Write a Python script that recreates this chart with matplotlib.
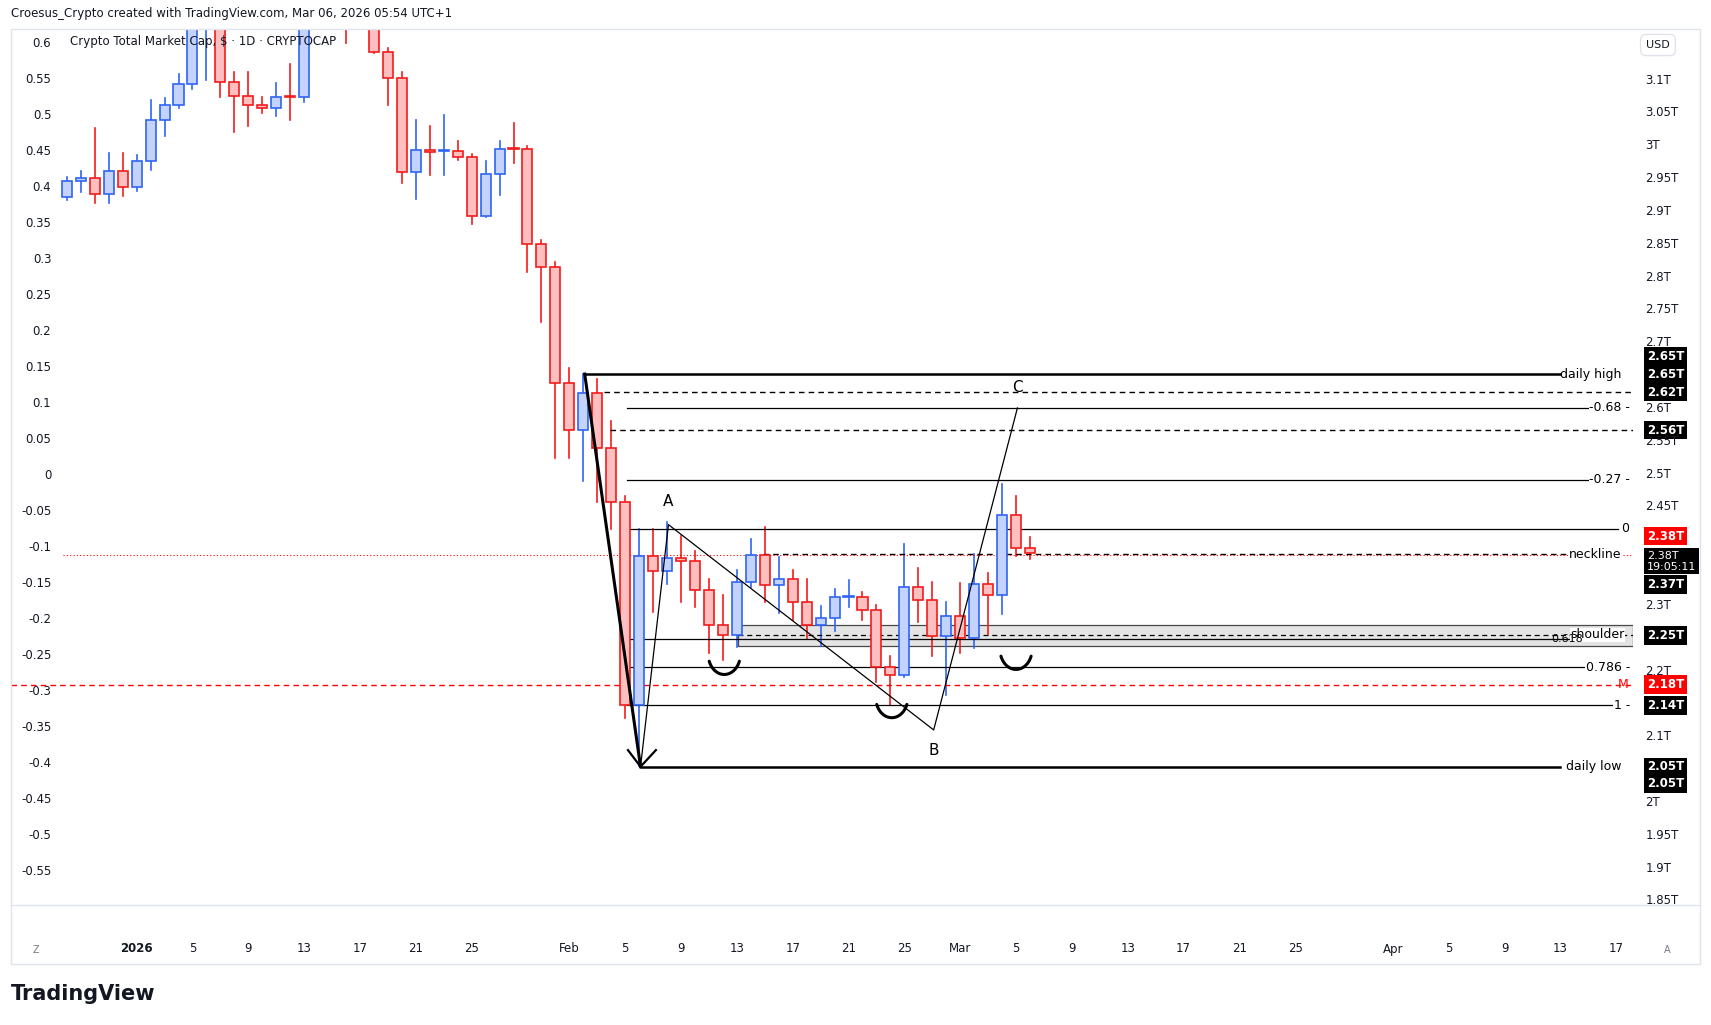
import matplotlib
matplotlib.use("Agg")
import matplotlib.pyplot as plt
from matplotlib.patches import Rectangle
import numpy as np

plt.rcParams["font.family"] = ["DejaVu Sans"]

# candles, one per day; day 0 = 2026-01-01, first candle 2025-12-27
first_day = -5
opens = [.385, .407, .411, .389, .421, .399, .435, .492, .512, .541,
         .630, .670, .545, .525, .512, .509, .524, .524, .660, .700,
         .660, .700, .650, .586, .550, .419, .450, .448, .449, .441,
         .358, .417, .452, .451, .320, .288, .126, .061, .113, .037,
         -.038, -.320, -.113, -.135, -.117, -.120, -.161, -.210, -.223, -.150,
         -.112, -.154, -.146, -.177, -.209, -.200, -.171, -.171, -.188, -.267,
         -.279, -.157, -.175, -.225, -.197, -.227, -.152, -.168, -.057, -.103]
closes = [.407, .411, .389, .421, .399, .435, .492, .512, .541, .630,
          .660, .545, .525, .512, .509, .524, .523, .660, .700, .660,
          .640, .650, .586, .550, .419, .450, .447, .449, .441, .358,
          .417, .452, .451, .320, .288, .126, .061, .113, .037, -.038,
          -.320, -.113, -.135, -.117, -.120, -.161, -.210, -.223, -.150, -.112,
          -.154, -.146, -.177, -.209, -.200, -.171, -.170, -.188, -.267, -.279,
          -.157, -.175, -.225, -.197, -.227, -.152, -.168, -.057, -.103, -.110]
highs = [.413, .421, .480, .446, .446, .443, .519, .522, .556, .660,
         .680, .700, .559, .558, .524, .543, .570, .680, .720, .730,
         .700, .710, .680, .592, .559, .491, .483, .498, .462, .445,
         .435, .463, .487, .455, .325, .295, .148, .139, .132, .074,
         -.030, -.076, -.076, -.066, -.086, -.106, -.146, -.168, -.133, -.090,
         -.073, -.115, -.133, -.146, -.183, -.160, -.147, -.164, -.182, -.253,
         -.097, -.130, -.150, -.177, -.151, -.111, -.137, -.014, -.030, -.087]
lows = [.381, .392, .377, .377, .386, .393, .422, .469, .508, .535,
        .547, .524, .475, .484, .501, .497, .492, .517, .640, .630,
        .598, .640, .584, .513, .404, .382, .416, .416, .436, .347,
        .357, .388, .432, .280, .211, .023, .023, -.009, -.039, -.076,
        -.338, -.405, -.191, -.153, -.177, -.185, -.248, -.258, -.240, -.156,
        -.177, -.193, -.203, -.227, -.238, -.217, -.184, -.202, -.288, -.320,
        -.282, -.205, -.252, -.306, -.248, -.241, -.222, -.194, -.113, -.118]

left_ticks = [0.6, 0.55, 0.5, 0.45, 0.4, 0.35, 0.3, 0.25, 0.2, 0.15, 0.1, 0.05, 0,
              -0.05, -0.1, -0.15, -0.2, -0.25, -0.3, -0.35, -0.4, -0.45, -0.5, -0.55]
price_ticks = [3.1, 3.05, 3.0, 2.95, 2.9, 2.85, 2.8, 2.75, 2.7, 2.6, 2.55, 2.5, 2.45,
               2.3, 2.2, 2.1, 2.0, 1.95, 1.9, 1.85]
date_pos = [0, 4, 8, 12, 16, 20, 24, 31, 35, 39, 43, 47, 51, 55, 59, 63, 67, 71, 75, 79, 83,
            90, 94, 98, 102, 106]
date_lbl = ["2026", "5", "9", "13", "17", "21", "25", "Feb", "5", "9", "13", "17", "21", "25",
            "Mar", "5", "9", "13", "17", "21", "25", "Apr", "5", "9", "13", "17"]
# price tags on the right scale, placed at the level of the line they belong to
tag_lvl = [0.164, 0.139, 0.114, 0.061, -0.086, -0.153, -0.224, -0.292, -0.321, -0.406, -0.430]
tag_txt = ["2.65T", "2.65T", "2.62T", "2.56T", "2.38T", "2.37T", "2.25T", "2.18T", "2.14T",
           "2.05T", "2.05T"]
tag_col = ["black", "black", "black", "black", "red", "black", "black", "red", "black",
           "black", "black"]

P0, PK, V0 = 2.05, 1.097, -0.408


def to_price(v):
    return P0 + PK * (v - V0)


UP_FILL, UP_EDGE = "#c3d3fb", "#2f64f5"
DN_FILL, DN_EDGE = "#ffbfbf", "#f21b1b"

fig = plt.figure(figsize=(17.11, 10.25), dpi=100)
ax = fig.add_axes([11 / 1711, 1 - 905 / 1025, 1622 / 1711, 876 / 1025])
ylim = (-0.598, 0.618)
xlim = (-9.0, 107.2)
ax.set_xlim(*xlim)
ax.set_ylim(*ylim)
for s in ax.spines.values():
    s.set_visible(False)

for i, (o, c, h, l) in enumerate(zip(opens, closes, highs, lows)):
    d = first_day + i
    up = c >= o
    fc, ec = (UP_FILL, UP_EDGE) if up else (DN_FILL, DN_EDGE)
    ax.plot([d, d], [l, h], color=ec, lw=1.2, zorder=2)
    bot, ht = min(o, c), max(abs(c - o), 0.0015)
    ax.add_patch(Rectangle((d - 0.36, bot), 0.72, ht, facecolor=fc, edgecolor=ec, lw=1.2, zorder=3))

# drawings
K = "black"
ax.plot([32.1, 102.0], [0.139, 0.139], color=K, lw=1.8, zorder=4)
ax.plot([36.1, 102.0], [-0.406, -0.406], color=K, lw=1.8, zorder=4)
ax.plot([33.5, xlim[1]], [0.114, 0.114], color=K, lw=1, ls=(0, (4, 3)))
ax.plot([33.9, xlim[1]], [0.061, 0.061], color=K, lw=1, ls=(0, (4, 3)))
for y, end in [(0.092, 104.1), (-0.008, 104.1), (-0.076, 106.1), (-0.229, 104.1),
               (-0.268, 104.1), (-0.321, 106.1)]:
    ax.plot([35.1, end], [y, y], color=K, lw=0.9)
ax.plot([44.9, 102.5], [-0.111, -0.111], color=K, lw=1, ls=(0, (4, 3)))
ax.plot([-5.3, xlim[1]], [-0.1125, -0.1125], color="red", lw=0.8, ls=(0, (1, 2)))
ax.plot([xlim[0], xlim[1]], [-0.292, -0.292], color="red", lw=1, ls=(0, (4, 3)))
ax.add_patch(Rectangle((43.1, -0.239), xlim[1] - 43.1, 0.030, facecolor="#d9d9d9", alpha=0.7,
                       edgecolor=K, lw=0.9, zorder=1))
ax.plot([43.1, xlim[1]], [-0.223, -0.223], color=K, lw=0.9, ls=(0, (4, 3)))

ax.plot([32.1, 36.1], [0.139, -0.406], color=K, lw=2.2, zorder=5)
ax.plot([35.2, 36.1, 37.2], [-0.383, -0.406, -0.383], color=K, lw=1.6, zorder=5)
ax.plot([36.1, 38.1, 57.1, 63.1], [-0.406, -0.07, -0.355, 0.092], color=K, lw=0.9, zorder=5)
for x, y, t in [(38.1, -0.038, "A"), (57.1, -0.383, "B"), (63.1, 0.121, "C")]:
    ax.text(x, y, t, fontsize=11, ha="center", va="center")
th = np.linspace(np.radians(200), np.radians(340), 40)
for cx, cy in [(42.1, -0.250), (54.1, -0.310), (63.0, -0.243)]:
    ax.plot(cx + 1.15 * np.cos(th), cy + 0.028 * np.sin(th), color=K, lw=2.2, zorder=5,
            solid_capstyle="round")

for x, y, t, col in [(106.4, 0.139, "daily high", K), (106.4, -0.406, "daily low", K),
                     (107.0, 0.092, "-0.68 -", K), (107.0, -0.008, "-0.27 -", K),
                     (106.9, -0.076, "0", K), (106.4, -0.111, "neckline", K),
                     (106.6, -0.223, "shoulder", K), (107.0, -0.268, "0.786 -", K),
                     (107.0, -0.321, "1 -", K), (106.9, -0.292, "M", "red")]:
    ax.text(x, y, t, fontsize=9, ha="right", va="center", color=col,
            bbox=dict(facecolor="white", edgecolor="none", pad=0.5) if t != "M" else None)
ax.text(103.6, -0.229, "0.618", fontsize=8, ha="right", va="center", color=K)

# left scale (inside plot)
ax.set_yticks(left_ticks, [f"{t:g}" for t in left_ticks])
ax.tick_params(axis="y", direction="in", length=0, pad=-29, labelsize=8.5, labelcolor="#131722")
for lb in ax.get_yticklabels():
    lb.set_horizontalalignment("right")
ax.set_xticks(date_pos, date_lbl)
ax.tick_params(axis="x", length=0, pad=27, labelsize=8.5, labelcolor="#131722")
ax.get_xticklabels()[0].set_fontweight("bold")

ax2 = ax.twinx()
ax2.set_ylim(to_price(ylim[0]), to_price(ylim[1]))
for s in ax2.spines.values():
    s.set_visible(False)
ax2.set_yticks(price_ticks, [f"{p:g}T" for p in price_ticks])
ax2.tick_params(axis="y", length=0, pad=9, labelsize=8.5, labelcolor="#131722")
for v, t, col in zip(tag_lvl, tag_txt, tag_col):
    ax.text(1.0085, v, t, transform=ax.get_yaxis_transform(), fontsize=8.5, fontweight="bold",
            color="white", va="center", ha="left", zorder=10,
            bbox=dict(facecolor=col, edgecolor="none", boxstyle="square,pad=0.22"))
ax.text(1.0085, -0.121, "2.38T\n19:05:11", transform=ax.get_yaxis_transform(), fontsize=8,
        color="white", va="center", ha="left", linespacing=1.15, zorder=10,
        bbox=dict(facecolor="black", edgecolor="none", boxstyle="square,pad=0.22"))

# frame, headers
fig.add_artist(Rectangle((11 / 1711, 1 - 964 / 1025), 1689 / 1711, 935 / 1025, transform=fig.transFigure,
                         fill=False, edgecolor="#e0e3eb", lw=1))
fig.add_artist(plt.Line2D([11 / 1711, 1700 / 1711], [1 - 905 / 1025] * 2, transform=fig.transFigure,
                          color="#e0e3eb", lw=1))
fig.text(11 / 1711, 1 - 14 / 1025, "Croesus_Crypto created with TradingView.com, Mar 06, 2026 05:54 UTC+1",
         fontsize=8.5, va="center", color="#131722")
fig.text(70 / 1711, 1 - 41 / 1025, "Crypto Total Market Cap, $ · 1D · CRYPTOCAP", fontsize=8.5,
         va="center", color="#131722")
fig.text(1658 / 1711, 1 - 45 / 1025, "USD", fontsize=8, va="center", ha="center", color="#131722",
         bbox=dict(facecolor="white", edgecolor="#e0e3eb", boxstyle="round,pad=0.5"))
fig.text(36 / 1711, 1 - 950 / 1025, "Z", fontsize=7, va="center", ha="center", color="#787b86")
fig.text(1667 / 1711, 1 - 950 / 1025, "A", fontsize=7, va="center", ha="center", color="#787b86")
fig.text(11 / 1711, 1 - 994 / 1025, "TradingView", fontsize=15, fontweight="bold", va="center",
         color="#131722")

fig.savefig("out.png", dpi=100, facecolor="white")
